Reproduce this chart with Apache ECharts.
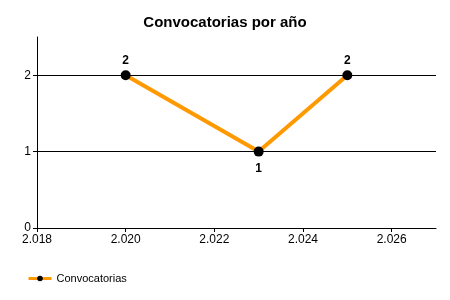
<!DOCTYPE html>
<html><head><meta charset="utf-8">
<script src="https://cdn.jsdelivr.net/npm/echarts@6/dist/echarts.min.js"></script>
<style>html,body{margin:0;padding:0;background:#fff}#c{width:450px;height:300px}</style>
</head><body><div id="c"></div>
<script>
var years = [2020, 2023, 2025];
var values = [2, 1, 2];
var xTicks = [2018, 2020, 2022, 2024, 2026];
var yTicks = [0, 1, 2];
var gridValues = [1, 2];
var seriesName = 'Convocatorias';
var titleText = 'Convocatorias por año';

function fmtYear(v){ var s = String(Math.round(v)); return s.length > 3 ? s.slice(0, s.length-3) + '.' + s.slice(-3) : s; }

var data = years.map(function(y,i){
  var below = (i > 0 && i < years.length-1 && values[i] < values[i-1] && values[i] < values[i+1]);
  return below ? {value: [y, values[i]], label: {position: 'bottom', distance: 6}} : [y, values[i]];
});

var chart = echarts.init(document.getElementById('c'), null, {renderer:'canvas'});
chart.setOption({
  animation: false,
  textStyle: {fontFamily: 'Liberation Sans, Arial, sans-serif'},
  title: {text: titleText, left: 'center', top: 10, textStyle: {fontSize: 15, fontWeight: 'bold', color: '#000'}},
  legend: {left: 22, top: 268, itemWidth: 23, itemHeight: 7, itemGap: 4,
    lineStyle: {width: 3},
    textStyle: {fontSize: 11, color: '#000'}, data: [seriesName]},
  grid: {left: 37, right: 14, top: 37, bottom: 72, containLabel: false},
  xAxis: {type: 'value', min: 2018, max: 2027, interval: 2,
    axisLine: {lineStyle: {color: '#000', width: 1}},
    axisTick: {show: true, length: 4, lineStyle: {color: '#000'}, customValues: xTicks},
    axisLabel: {color: '#000', fontSize: 12, margin: 6, customValues: xTicks, formatter: fmtYear},
    splitLine: {show: false}},
  yAxis: {type: 'value', min: 0, max: 2.5, interval: 1,
    axisLine: {show: true, lineStyle: {color: '#000', width: 1}},
    axisTick: {show: true, length: 4, lineStyle: {color: '#000'}, customValues: yTicks},
    axisLabel: {color: '#000', fontSize: 12, margin: 6, customValues: yTicks},
    splitLine: {show: false}},
  series: [{
    name: seriesName, type: 'line',
    data: data,
    symbol: 'circle', symbolSize: 10,
    itemStyle: {color: '#000'},
    lineStyle: {color: '#FF9900', width: 4},
    label: {show: true, fontSize: 12, fontWeight: 'bold', color: '#000', distance: 4, position: 'top'},
    markLine: {silent: true, symbol: 'none', label: {show: false},
      lineStyle: {color: '#000', width: 1, type: 'solid'},
      data: gridValues.map(function(v){ return {yAxis: v}; })},
    z: 3
  }]
});
</script></body></html>
